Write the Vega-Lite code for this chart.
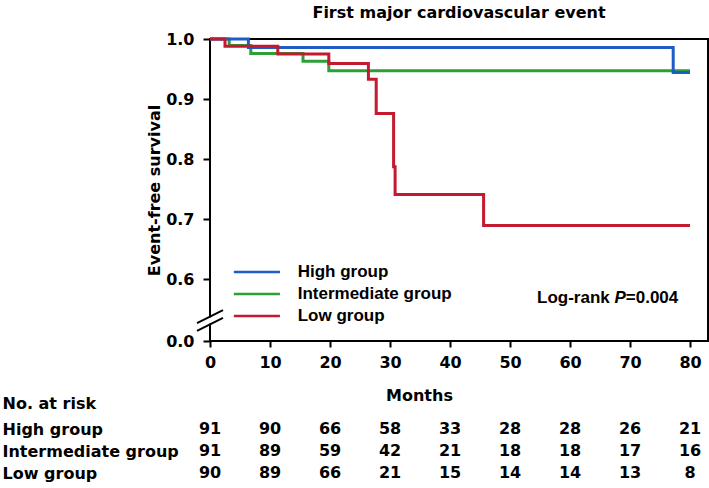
{
  "$schema": "https://vega.github.io/schema/vega-lite/v6.json",
  "background": "white",
  "padding": {"left": 2, "top": 4, "right": 0, "bottom": 0},
  "config": {"view": {"stroke": null}, "font": "DejaVu Sans"},
  "spacing": 16,
  "resolve": {"scale": {"x": "independent", "y": "independent"}},
  "datasets": {
    "km": [
      {"group": "Intermediate group", "month": 0, "survival": 1.0},
      {"group": "Intermediate group", "month": 3.2, "survival": 0.989},
      {"group": "Intermediate group", "month": 6.8, "survival": 0.976},
      {"group": "Intermediate group", "month": 15.5, "survival": 0.963},
      {"group": "Intermediate group", "month": 19.8, "survival": 0.947},
      {"group": "Intermediate group", "month": 80, "survival": 0.947},
      {"group": "High group", "month": 0, "survival": 1.0},
      {"group": "High group", "month": 6.4, "survival": 0.986},
      {"group": "High group", "month": 77.2, "survival": 0.944},
      {"group": "High group", "month": 80, "survival": 0.944},
      {"group": "Low group", "month": 0, "survival": 1.0},
      {"group": "Low group", "month": 2.5, "survival": 0.988},
      {"group": "Low group", "month": 11.3, "survival": 0.975},
      {"group": "Low group", "month": 19.8, "survival": 0.959},
      {"group": "Low group", "month": 26.4, "survival": 0.933},
      {"group": "Low group", "month": 27.7, "survival": 0.876},
      {"group": "Low group", "month": 30.6, "survival": 0.787},
      {"group": "Low group", "month": 30.85, "survival": 0.741},
      {"group": "Low group", "month": 45.6, "survival": 0.689},
      {"group": "Low group", "month": 80, "survival": 0.689}
    ],
    "risk": [
      {"group": "High group", "month": 0, "n": 91},
      {"group": "High group", "month": 10, "n": 90},
      {"group": "High group", "month": 20, "n": 66},
      {"group": "High group", "month": 30, "n": 58},
      {"group": "High group", "month": 40, "n": 33},
      {"group": "High group", "month": 50, "n": 28},
      {"group": "High group", "month": 60, "n": 28},
      {"group": "High group", "month": 70, "n": 26},
      {"group": "High group", "month": 80, "n": 21},
      {"group": "Intermediate group", "month": 0, "n": 91},
      {"group": "Intermediate group", "month": 10, "n": 89},
      {"group": "Intermediate group", "month": 20, "n": 59},
      {"group": "Intermediate group", "month": 30, "n": 42},
      {"group": "Intermediate group", "month": 40, "n": 21},
      {"group": "Intermediate group", "month": 50, "n": 18},
      {"group": "Intermediate group", "month": 60, "n": 18},
      {"group": "Intermediate group", "month": 70, "n": 17},
      {"group": "Intermediate group", "month": 80, "n": 16},
      {"group": "Low group", "month": 0, "n": 90},
      {"group": "Low group", "month": 10, "n": 89},
      {"group": "Low group", "month": 20, "n": 66},
      {"group": "Low group", "month": 30, "n": 21},
      {"group": "Low group", "month": 40, "n": 15},
      {"group": "Low group", "month": 50, "n": 14},
      {"group": "Low group", "month": 60, "n": 14},
      {"group": "Low group", "month": 70, "n": 13},
      {"group": "Low group", "month": 80, "n": 8}
    ],
    "annot": [{"month": 54.5, "survival": 0.3706}],
    "brk": [
      {"month": -2.17, "month2": 2.17, "survival": 0.172, "survival2": 0.298},
      {"month": -2.17, "month2": 2.17, "survival": 0.097, "survival2": 0.223}
    ],
    "mask": [{"month": -2.17, "month2": 2.17, "survival": 0.1345, "survival2": 0.2605}]
  },
  "vconcat": [
    {
      "width": 498,
      "height": 302,
      "view": {"stroke": "#000", "strokeWidth": 2},
      "title": {"text": "First major cardiovascular event", "font": "DejaVu Sans", "fontWeight": "bold", "fontSize": 16, "color": "#000", "anchor": "middle", "baseline": "alphabetic", "offset": -3},
      "layer": [
        {
          "data": {"name": "km"},
          "mark": {"type": "line", "interpolate": "step-after", "strokeWidth": 3, "clip": false},
          "encoding": {
            "x": {"field": "month", "type": "quantitative",
                  "scale": {"domain": [0, 83], "nice": false, "zero": false},
                  "axis": {"title": null, "values": [0, 10, 20, 30, 40, 50, 60, 70, 80], "domain": false, "grid": false,
                           "tickSize": 6, "tickWidth": 2, "tickColor": "#000", "labelPadding": 7, "labelFlush": false, "labelOverlap": false,
                           "labelFont": "DejaVu Sans", "labelFontWeight": "bold", "labelFontSize": 16, "labelColor": "#000"}},
            "y": {"field": "survival", "type": "quantitative",
                  "scale": {"domain": [0, 0.6, 1.0], "range": [302, 240, 0], "nice": false, "zero": false},
                  "axis": {"title": "Event-free survival", "values": [0, 0.6, 0.7, 0.8, 0.9, 1.0], "format": ".1f", "domain": false, "grid": false,
                           "tickSize": 7, "tickWidth": 2, "tickColor": "#000", "labelPadding": 9, "labelFlush": false, "labelOverlap": false,
                           "labelFont": "DejaVu Sans", "labelFontWeight": "bold", "labelFontSize": 16, "labelColor": "#000",
                           "titleFont": "DejaVu Sans", "titleFontWeight": "bold", "titleFontSize": 16, "titleColor": "#000", "titlePadding": 3}},
            "color": {"field": "group", "type": "nominal",
                      "scale": {"domain": ["High group", "Intermediate group", "Low group"], "range": ["#1e5cc8", "#2c9f37", "#c41a30"]},
                      "legend": {"orient": "none", "legendX": 38.4, "legendY": 224.5, "title": null,
                                 "symbolType": "M-5,0H5", "symbolSize": 85, "symbolStrokeWidth": 2.5,
                                 "labelFont": "Liberation Sans", "labelFontWeight": "bold", "labelFontSize": 17, "labelColor": "#000",
                                 "labelOffset": 32.3, "rowPadding": 4, "padding": 0, "labelLimit": 300,
                                 "encode": {"symbols": {"update": {"stroke": {"signal": "datum.value === 'High group' ? '#264a7a' : datum.value === 'Intermediate group' ? '#1fae4e' : '#e2222a'"}}}}}}
          }
        },
        {
          "data": {"name": "mask"},
          "mark": {"type": "rule", "color": "white", "strokeWidth": 5, "clip": false},
          "encoding": {
            "x": {"field": "month", "type": "quantitative"},
            "x2": {"field": "month2"},
            "y": {"field": "survival", "type": "quantitative"},
            "y2": {"field": "survival2"}
          }
        },
        {
          "data": {"name": "brk"},
          "mark": {"type": "rule", "color": "#000", "strokeWidth": 2, "clip": false},
          "encoding": {
            "x": {"field": "month", "type": "quantitative"},
            "x2": {"field": "month2"},
            "y": {"field": "survival", "type": "quantitative"},
            "y2": {"field": "survival2"}
          }
        },
        {
          "data": {"name": "annot"},
          "mark": {"type": "text", "text": "Log-rank", "align": "left", "baseline": "alphabetic", "font": "Liberation Sans", "fontWeight": "bold", "fontSize": 17, "color": "#000"},
          "encoding": {"x": {"field": "month", "type": "quantitative"}, "y": {"field": "survival", "type": "quantitative"}}
        },
        {
          "data": {"name": "annot"},
          "mark": {"type": "text", "text": "P", "dx": 77.5, "align": "left", "baseline": "alphabetic", "font": "Liberation Sans", "fontWeight": "bold", "fontStyle": "italic", "fontSize": 17, "color": "#000"},
          "encoding": {"x": {"field": "month", "type": "quantitative"}, "y": {"field": "survival", "type": "quantitative"}}
        },
        {
          "data": {"name": "annot"},
          "mark": {"type": "text", "text": "=0.004", "dx": 88.8, "align": "left", "baseline": "alphabetic", "font": "Liberation Sans", "fontWeight": "bold", "fontSize": 17, "color": "#000"},
          "encoding": {"x": {"field": "month", "type": "quantitative"}, "y": {"field": "survival", "type": "quantitative"}}
        }
      ]
    },
    {
      "width": 498,
      "height": 66,
      "data": {"name": "risk"},
      "mark": {"type": "text", "font": "DejaVu Sans", "fontWeight": "bold", "fontSize": 16, "align": "center", "baseline": "middle", "color": "#000"},
      "encoding": {
        "x": {"field": "month", "type": "quantitative",
              "scale": {"domain": [0, 83], "nice": false, "zero": false},
              "axis": {"orient": "top", "title": "Months", "labels": false, "ticks": false, "domain": false, "grid": false,
                       "titleX": 209, "titleY": -17.7, "titleAlign": "center", "titleBaseline": "alphabetic", "titleAngle": 0,
                       "titleFont": "DejaVu Sans", "titleFontWeight": "bold", "titleFontSize": 16, "titleColor": "#000"}},
        "y": {"field": "group", "type": "nominal",
              "scale": {"domain": ["High group", "Intermediate group", "Low group"]},
              "axis": {"orient": "left", "title": "No. at risk", "titleAngle": 0, "titleAlign": "left", "titleBaseline": "alphabetic",
                       "titleX": -208, "titleY": -9.6, "titleFont": "DejaVu Sans", "titleFontWeight": "bold", "titleFontSize": 16, "titleColor": "#000",
                       "labelAlign": "left", "labelBaseline": "middle", "labelPadding": 208, "ticks": false, "tickSize": 0, "domain": false, "grid": false,
                       "labelLimit": 300, "labelFont": "DejaVu Sans", "labelFontWeight": "bold", "labelFontSize": 16, "labelColor": "#000"}},
        "text": {"field": "n", "type": "quantitative"}
      }
    }
  ]
}
